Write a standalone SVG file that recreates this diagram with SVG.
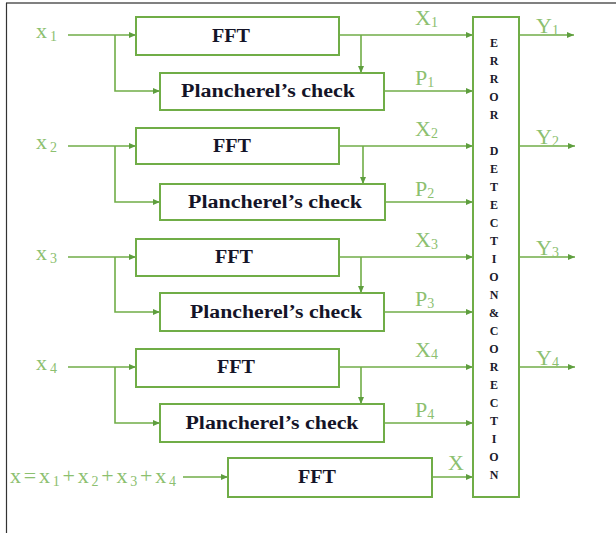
<svg xmlns="http://www.w3.org/2000/svg" width="616" height="533" viewBox="0 0 616 533">
<defs>
<marker id="ah" markerUnits="userSpaceOnUse" markerWidth="8" markerHeight="7" refX="7" refY="3" orient="auto">
<path d="M0,0 L7,3 L0,6 z" fill="#5e9e3e"/>
</marker>
<style>
.box{fill:#fff;stroke:#70ad47;stroke-width:2}
.ln{fill:none;stroke:#70ad47;stroke-width:1.6}
.ar{marker-end:url(#ah)}
.bt{font-family:"Liberation Serif",serif;font-weight:bold;font-size:18px;fill:#141428;text-anchor:middle}
.lb{font-family:"Liberation Serif",serif;font-size:22px;fill:#8cc06f}
.sb{font-size:14px}
.el{font-family:"Liberation Serif",serif;font-weight:bold;font-size:12px;fill:#1a1a2a;text-anchor:middle}
</style>
</defs>
<rect width="616" height="533" fill="#fff"/>
<line x1="6" y1="3" x2="616" y2="3" stroke="#808080" stroke-width="2"/>
<line x1="6.5" y1="3" x2="6.5" y2="533" stroke="#333" stroke-width="1.2"/>

<g id="connectors">
<path class="ln ar" d="M68,35 H136"/>
<path class="ln ar" d="M115,35 V91 H160"/>
<path class="ln ar" d="M339,35 H473"/>
<path class="ln ar" d="M361,35 V73"/>
<path class="ln ar" d="M384,91 H473"/>
<path class="ln ar" d="M519,35 H574"/>
<path class="ln ar" d="M68,146 H136"/>
<path class="ln ar" d="M115,146 V202 H160"/>
<path class="ln ar" d="M339,146 H473"/>
<path class="ln ar" d="M363,146 V184"/>
<path class="ln ar" d="M385,202 H473"/>
<path class="ln ar" d="M519,146 H575"/>
<path class="ln ar" d="M68,257 H136"/>
<path class="ln ar" d="M115,257 V312 H160"/>
<path class="ln ar" d="M339,257 H473"/>
<path class="ln ar" d="M361,257 V293"/>
<path class="ln ar" d="M384,312 H473"/>
<path class="ln ar" d="M519,257 H575"/>
<path class="ln ar" d="M68,367 H136"/>
<path class="ln ar" d="M115,367 V423 H160"/>
<path class="ln ar" d="M339,367 H473"/>
<path class="ln ar" d="M361,367 V404"/>
<path class="ln ar" d="M384,423 H473"/>
<path class="ln ar" d="M519,367 H575"/>
<path class="ln ar" d="M183,477 H228"/>
<path class="ln ar" d="M432,477 H473"/>
</g>

<g id="fft1"><rect class="box" x="136" y="17" width="203" height="38"/><text class="bt" x="231" y="42" textLength="38" lengthAdjust="spacingAndGlyphs">FFT</text></g>
<g id="planch1"><rect class="box" x="160" y="73" width="224" height="37"/><text class="bt" x="268" y="97" textLength="174" lengthAdjust="spacingAndGlyphs">Plancherel’s check</text></g>
<g id="fft2"><rect class="box" x="136" y="128" width="203" height="36"/><text class="bt" x="232" y="152" textLength="38" lengthAdjust="spacingAndGlyphs">FFT</text></g>
<g id="planch2"><rect class="box" x="160" y="184" width="225" height="36"/><text class="bt" x="275" y="208" textLength="174" lengthAdjust="spacingAndGlyphs">Plancherel’s check</text></g>
<g id="fft3"><rect class="box" x="136" y="239" width="203" height="37"/><text class="bt" x="234" y="263" textLength="38" lengthAdjust="spacingAndGlyphs">FFT</text></g>
<g id="planch3"><rect class="box" x="160" y="293" width="224" height="38"/><text class="bt" x="276" y="318" textLength="172" lengthAdjust="spacingAndGlyphs">Plancherel’s check</text></g>
<g id="fft4"><rect class="box" x="136" y="349" width="203" height="38"/><text class="bt" x="236" y="373" textLength="38" lengthAdjust="spacingAndGlyphs">FFT</text></g>
<g id="planch4"><rect class="box" x="160" y="404" width="224" height="38"/><text class="bt" x="272" y="429" textLength="173" lengthAdjust="spacingAndGlyphs">Plancherel’s check</text></g>
<g id="fft5"><rect class="box" x="228" y="458" width="204" height="39"/><text class="bt" x="317" y="483" textLength="38" lengthAdjust="spacingAndGlyphs">FFT</text></g>

<g id="edc">
<rect class="box" x="473" y="17" width="46" height="480"/>
<text class="el" x="494" y="47">E</text>
<text class="el" x="494" y="65">R</text>
<text class="el" x="494" y="83">R</text>
<text class="el" x="494" y="101">O</text>
<text class="el" x="494" y="119">R</text>
<text class="el" x="494" y="155">D</text>
<text class="el" x="494" y="173">E</text>
<text class="el" x="494" y="191">T</text>
<text class="el" x="494" y="209">E</text>
<text class="el" x="494" y="227">C</text>
<text class="el" x="494" y="245">T</text>
<text class="el" x="494" y="263">I</text>
<text class="el" x="494" y="281">O</text>
<text class="el" x="494" y="299">N</text>
<text class="el" x="494" y="317">&amp;</text>
<text class="el" x="494" y="335">C</text>
<text class="el" x="494" y="353">O</text>
<text class="el" x="494" y="371">R</text>
<text class="el" x="494" y="389">E</text>
<text class="el" x="494" y="407">C</text>
<text class="el" x="494" y="425">T</text>
<text class="el" x="494" y="443">I</text>
<text class="el" x="494" y="461">O</text>
<text class="el" x="494" y="479">N</text>
</g>

<g id="labels">
<text class="lb" x="36" y="38" textLength="21" lengthAdjust="spacing">x<tspan class="sb" dy="3">1</tspan></text>
<text class="lb" x="36" y="149" textLength="21" lengthAdjust="spacing">x<tspan class="sb" dy="3">2</tspan></text>
<text class="lb" x="36" y="260" textLength="21" lengthAdjust="spacing">x<tspan class="sb" dy="3">3</tspan></text>
<text class="lb" x="36" y="370" textLength="21" lengthAdjust="spacing">x<tspan class="sb" dy="3">4</tspan></text>
<text class="lb" x="415" y="25">X<tspan class="sb" dy="2">1</tspan></text>
<text class="lb" x="415" y="136">X<tspan class="sb" dy="2">2</tspan></text>
<text class="lb" x="415" y="247">X<tspan class="sb" dy="2">3</tspan></text>
<text class="lb" x="415" y="357">X<tspan class="sb" dy="2">4</tspan></text>
<text class="lb" x="415" y="85">P<tspan class="sb" dy="2">1</tspan></text>
<text class="lb" x="415" y="196">P<tspan class="sb" dy="2">2</tspan></text>
<text class="lb" x="415" y="306">P<tspan class="sb" dy="2">3</tspan></text>
<text class="lb" x="415" y="417">P<tspan class="sb" dy="2">4</tspan></text>
<text class="lb" x="536" y="33">Y<tspan class="sb" dy="2">1</tspan></text>
<text class="lb" x="536" y="144">Y<tspan class="sb" dy="2">2</tspan></text>
<text class="lb" x="536" y="255">Y<tspan class="sb" dy="2">3</tspan></text>
<text class="lb" x="536" y="365">Y<tspan class="sb" dy="2">4</tspan></text>
<text class="lb" x="10" y="483" textLength="166" lengthAdjust="spacing">x=x<tspan class="sb" dy="3">1</tspan><tspan dy="-3">+x</tspan><tspan class="sb" dy="3">2</tspan><tspan dy="-3">+x</tspan><tspan class="sb" dy="3">3</tspan><tspan dy="-3">+x</tspan><tspan class="sb" dy="3">4</tspan></text>
<text class="lb" x="448" y="470">X</text>
</g>
</svg>
